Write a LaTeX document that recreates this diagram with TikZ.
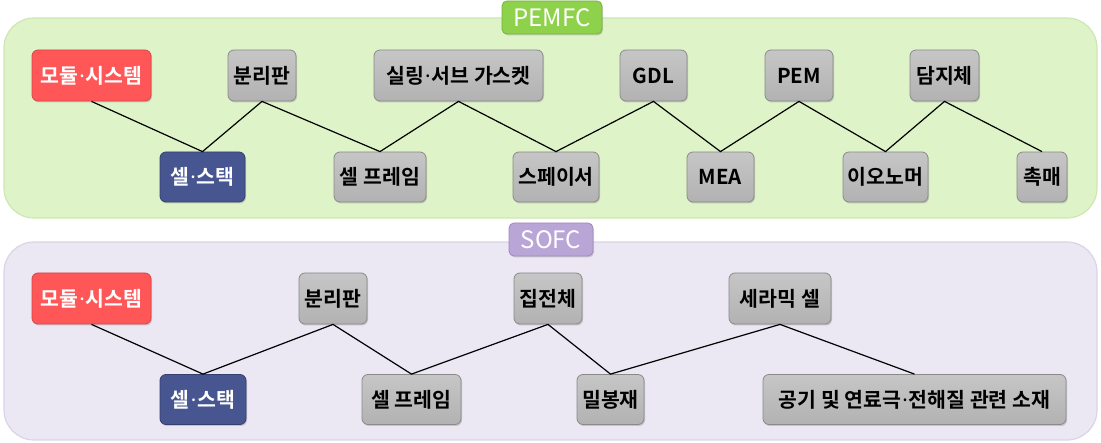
\documentclass[tikz,border=0pt]{standalone}
\usepackage{fontspec}
\setmainfont{Noto Sans CJK KR}[BoldFont={Noto Sans CJK KR Bold}]
\newfontfamily\dotfont{Noto Sans}
\newcommand{\md}{\kern1pt{\dotfont\bfseries ·}\kern1pt}
\usetikzlibrary{shadows}
\definecolor{pgreenfill}{HTML}{DFF3C9}
\definecolor{pgreenline}{HTML}{CDE7B0}
\definecolor{plavfill}{HTML}{EBE7F3}
\definecolor{plavline}{HTML}{DAD4E8}
\definecolor{tgreen}{HTML}{8ED24C}
\definecolor{tgreenline}{HTML}{74B338}
\definecolor{tlav}{HTML}{B9A6D6}
\definecolor{tlavline}{HTML}{9E88BF}
\definecolor{rednode}{HTML}{FF5757}
\definecolor{rednodeline}{HTML}{D94545}
\definecolor{navynode}{HTML}{475691}
\definecolor{navynodeline}{HTML}{34406E}
\definecolor{graytop}{HTML}{C6C6C6}
\definecolor{graybot}{HTML}{B2B2B2}
\definecolor{grayline}{HTML}{8A8A8A}
\tikzset{
  box/.style={rounded corners=6pt, inner sep=0pt, line width=0.8pt,
    font=\fontsize{20.5}{22}\selectfont\bfseries,
    drop shadow={shadow xshift=1pt, shadow yshift=-1.5pt, opacity=0.35}},
  graybox/.style={box, draw=grayline, top color=graytop, bottom color=graybot, text=black},
  redbox/.style={box, draw=rednodeline, fill=rednode, text=white},
  navybox/.style={box, draw=navynodeline, fill=navynode, text=white},
  topbox/.style={minimum height=51pt},
  botbox/.style={minimum height=50pt},
  tagbox/.style={rounded corners=5pt, inner sep=0pt, minimum height=33pt, line width=0.8pt,
    text=white, font=\fontsize{24}{26}\selectfont,
    drop shadow={shadow xshift=1pt, shadow yshift=-1.5pt, opacity=0.3}},
  link/.style={line width=1.2pt, black},
  panel/.style={rounded corners=30pt, line width=1.2pt}
}
\begin{document}
\begin{tikzpicture}[x=1pt,y=-1pt]
\useasboundingbox (0,0) rectangle (1101,443);
% panels
\draw[panel, draw=pgreenline, fill=pgreenfill] (4,18) rectangle (1097,218);
\draw[panel, draw=plavline, fill=plavfill] (4,242) rectangle (1097,440);
% tags
\node[tagbox, draw=tgreenline, fill=tgreen, minimum width=100pt] (tagp) at (552,17.5) {PEMFC};
\node[tagbox, draw=tlavline, fill=tlav, minimum width=84pt] (tags) at (551,239.5) {SOFC};
% PEMFC nodes
\node[redbox, topbox, minimum width=119pt] (pm) at (91.5,75.5) {모듈\md 시스템};
\node[navybox, botbox, minimum width=85pt] (ps) at (202.5,177) {셀\md 스택};
\node[graybox, topbox, minimum width=68pt] (pb) at (262,75.5) {분리판};
\node[graybox, botbox, minimum width=92pt] (pf) at (380,177) {셀 프레임};
\node[graybox, topbox, minimum width=169pt] (pg) at (458.5,75.5) {실링\md 서브 가스켓};
\node[graybox, botbox, minimum width=86pt] (psp) at (556,177) {스페이서};
\node[graybox, topbox, minimum width=67pt] (gdl) at (653.5,75.5) {GDL};
\node[graybox, botbox, minimum width=67pt] (mea) at (720.5,177) {MEA};
\node[graybox, topbox, minimum width=68pt] (pem) at (799,75.5) {PEM};
\node[graybox, botbox, minimum width=85pt] (io) at (885.5,177) {이오노머};
\node[graybox, topbox, minimum width=69pt] (dj) at (944.5,75.5) {담지체};
\node[graybox, botbox, minimum width=50pt] (ch) at (1042,177) {촉매};
% PEMFC links
\draw[link] (pm.south) -- (ps.north) -- (pb.south) -- (pf.north) -- (pg.south) -- (psp.north)
  -- (gdl.south) -- (mea.north) -- (pem.south) -- (io.north) -- (dj.south) -- (ch.north);
% SOFC nodes
\node[redbox, topbox, minimum width=119pt] (sm) at (91.5,298.5) {모듈\md 시스템};
\node[navybox, botbox, minimum width=86pt] (ss) at (203,399.5) {셀\md 스택};
\node[graybox, topbox, minimum width=68pt] (sb) at (333,298.5) {분리판};
\node[graybox, botbox, minimum width=99pt] (sf) at (411.5,399.5) {셀 프레임};
\node[graybox, topbox, minimum width=68pt] (sj) at (548,298.5) {집전체};
\node[graybox, botbox, minimum width=67pt] (sr) at (610.5,399.5) {밀봉재};
\node[graybox, topbox, minimum width=102pt] (sc) at (780,298.5) {세라믹 셀};
\node[graybox, botbox, minimum width=303pt] (sa) at (914.5,399.5) {공기 및 연료극\md 전해질 관련 소재};
% SOFC links
\draw[link] (sm.south) -- (ss.north) -- (sb.south) -- (sf.north) -- (sj.south) -- (sr.north)
  -- (sc.south) -- (sa.north);
\end{tikzpicture}
\end{document}
